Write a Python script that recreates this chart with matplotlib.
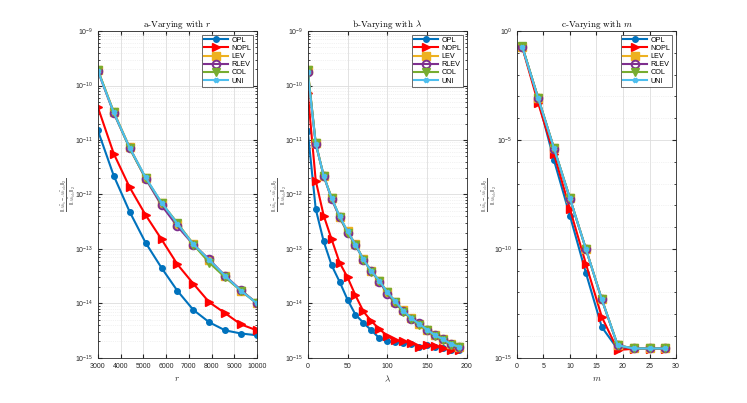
import matplotlib
matplotlib.use("Agg")
import matplotlib.pyplot as plt
from matplotlib.ticker import NullFormatter, FixedLocator

plt.rcParams['font.family'] = ['Liberation Sans', 'DejaVu Sans']
plt.rcParams['mathtext.fontset'] = 'custom'
plt.rcParams['mathtext.rm'] = 'Liberation Sans'
plt.rcParams['mathtext.it'] = 'cmmi10'
plt.rcParams['mathtext.fallback'] = 'cm'
plt.rcParams['axes.unicode_minus'] = False

# panel a - varying r
r_vals = [3000, 3700, 4400, 5100, 5800, 6500, 7200, 7900, 8600, 9300, 10000]
a_opl = [1.5e-11, 2.2e-12, 4.8e-13, 1.3e-13, 4.5e-14, 1.7e-14, 7.6e-15, 4.5e-15, 3.2e-15, 2.8e-15, 2.6e-15]
a_nopl = [4.0e-11, 5.6e-12, 1.35e-12, 4.2e-13, 1.5e-13, 5.2e-14, 2.3e-14, 1.05e-14, 6.6e-15, 4.1e-15, 3.2e-15]
a_lev = [1.9e-10, 3.3e-11, 7.3e-12, 2.0e-12, 6.9e-13, 2.9e-13, 1.25e-13, 6.2e-14, 3.2e-14, 1.7e-14, 1.0e-14]
a_rlev = [1.85e-10, 3.1e-11, 7.1e-12, 1.95e-12, 6.3e-13, 2.6e-13, 1.2e-13, 6.4e-14, 3.2e-14, 1.75e-14, 1.0e-14]
a_col = [1.95e-10, 3.2e-11, 7.0e-12, 2.0e-12, 7.0e-13, 3.0e-13, 1.2e-13, 5.6e-14, 3.0e-14, 1.7e-14, 1.0e-14]
a_uni = [1.87e-10, 3.2e-11, 7.2e-12, 2.05e-12, 7.1e-13, 2.9e-13, 1.22e-13, 6.3e-14, 3.2e-14, 1.7e-14, 1.0e-14]

# panel b - varying lambda
lam_vals = [0, 10, 20, 30, 40, 50, 60, 70, 80, 90, 100, 110, 120, 130, 140, 150, 160, 170, 180, 190]
b_opl = [1.45e-11, 5.4e-13, 1.38e-13, 5.0e-14, 2.5e-14, 1.17e-14, 6.2e-15, 4.4e-15, 3.2e-15, 2.3e-15,
         2.0e-15, 1.95e-15, 1.9e-15, 1.8e-15, 1.6e-15, 1.7e-15, 1.6e-15, 1.5e-15, 1.38e-15, 1.4e-15]
b_nopl = [7.4e-11, 1.8e-12, 4.1e-13, 1.5e-13, 5.6e-14, 3.0e-14, 1.4e-14, 7.1e-15, 4.7e-15, 3.4e-15,
          2.5e-15, 2.1e-15, 2.0e-15, 1.9e-15, 1.6e-15, 1.75e-15, 1.65e-15, 1.5e-15, 1.38e-15, 1.4e-15]
b_lev = [1.9e-10, 8.7e-12, 2.2e-12, 8.6e-13, 3.9e-13, 2.1e-13, 1.22e-13, 6.5e-14, 3.9e-14, 2.6e-14,
         1.6e-14, 1.08e-14, 7.5e-15, 5.4e-15, 4.2e-15, 3.3e-15, 2.6e-15, 2.2e-15, 1.8e-15, 1.6e-15]
b_rlev = [1.8e-10, 8.5e-12, 2.2e-12, 8.2e-13, 3.8e-13, 2.0e-13, 1.18e-13, 6.3e-14, 3.9e-14, 2.5e-14,
          1.5e-14, 1.0e-14, 7.3e-15, 5.2e-15, 4.3e-15, 3.2e-15, 2.6e-15, 2.2e-15, 1.8e-15, 1.55e-15]
b_col = [1.95e-10, 8.8e-12, 2.2e-12, 8.7e-13, 3.9e-13, 2.0e-13, 1.2e-13, 6.3e-14, 3.8e-14, 2.6e-14,
         1.6e-14, 1.05e-14, 7.0e-15, 5.2e-15, 4.0e-15, 3.2e-15, 2.5e-15, 2.1e-15, 1.75e-15, 1.55e-15]
b_uni = [1.75e-10, 8.6e-12, 2.2e-12, 8.5e-13, 4.0e-13, 2.1e-13, 1.2e-13, 6.4e-14, 3.9e-14, 2.6e-14,
         1.6e-14, 1.1e-14, 7.4e-15, 5.4e-15, 4.2e-15, 3.3e-15, 2.6e-15, 2.2e-15, 1.8e-15, 1.6e-15]

# panel c - varying m
m_vals = [1, 4, 7, 10, 13, 16, 19, 22, 25, 28]
c_opl = [0.2, 7e-4, 1.15e-6, 3.3e-9, 8e-12, 2.6e-14, 2.5e-15, 2.7e-15, 2.7e-15, 2.7e-15]
c_nopl = [0.18, 5e-4, 2.2e-6, 6.7e-9, 2.1e-11, 7.6e-14, 2.3e-15, 2.6e-15, 2.6e-15, 2.6e-15]
c_lev = [0.19, 8.5e-4, 4.1e-6, 2.1e-8, 1.0e-10, 4.9e-13, 3.8e-15, 2.7e-15, 2.7e-15, 2.7e-15]
c_rlev = [0.19, 8.3e-4, 4.0e-6, 2.0e-8, 1.0e-10, 4.8e-13, 3.7e-15, 2.7e-15, 2.7e-15, 2.7e-15]
c_col = [0.2, 8.6e-4, 4.2e-6, 2.1e-8, 1.0e-10, 5.0e-13, 3.8e-15, 2.7e-15, 2.7e-15, 2.7e-15]
c_uni = [0.19, 8.4e-4, 4.1e-6, 2.1e-8, 1.0e-10, 4.9e-13, 3.8e-15, 2.7e-15, 2.7e-15, 2.7e-15]

names = ['OPL', 'NOPL', 'LEV', 'RLEV', 'COL', 'UNI']
colors = ['#0072BD', '#FF0000', '#EDB120', '#7E2F8E', '#77AC30', '#4DBEEE']
markers = ['.', '>', 's', 'o', 'v', 'x']

ylab = r'$\frac{\|A\hat{b}_{s}-A\hat{b}_{ols}\|_2}{\|A\hat{b}_{ols}\|_2}$'

fig = plt.figure(figsize=(7.47, 4.03), dpi=100)
lefts = [0.131, 0.412, 0.692]
ylab_x = [-0.19, -0.18, -0.176]
panels = [
    (r_vals, [a_opl, a_nopl, a_lev, a_rlev, a_col, a_uni], 'a-Varying with ', 'r', (3000, 10000), range(3000, 10001, 1000), -15, -9, 1),
    (lam_vals, [b_opl, b_nopl, b_lev, b_rlev, b_col, b_uni], 'b-Varying with ', r'\lambda', (0, 200), range(0, 201, 50), -15, -9, 1),
    (m_vals, [c_opl, c_nopl, c_lev, c_rlev, c_col, c_uni], 'c-Varying with ', 'm', (0, 30), range(0, 31, 5), -15, 0, 5),
]

for k, (xv, series, ttl, var, xl, xt, e0, e1, step) in enumerate(panels):
    ax = fig.add_axes([lefts[k], 0.112, 0.213, 0.811])
    for s, name, c, mk in zip(series, names, colors, markers):
        if mk == 'o':
            ax.plot(xv, s, color=c, marker=mk, ms=5.5, mfc='none', mew=1.4, lw=1.5, label=name)
        elif mk == '.':
            ax.plot(xv, s, color=c, marker='o', ms=4, lw=1.5, label=name)
        elif mk == 'x':
            ax.plot(xv, s, color=c, marker=mk, ms=3.5, mew=2, lw=1.5, label=name)
        else:
            ax.plot(xv, s, color=c, marker=mk, ms=5.5, lw=1.5, label=name)
    ax.set_yscale('log')
    ax.set_xlim(xl)
    ax.set_ylim(10.0 ** e0, 10.0 ** e1)
    ax.set_xticks(list(xt))
    ax.yaxis.set_major_locator(FixedLocator([10.0 ** e for e in range(e0, e1 + 1, step)]))
    if step == 1:
        minors = [d * 10.0 ** e for e in range(e0, e1) for d in range(2, 10)]
    else:
        minors = [10.0 ** e for e in range(e0, e1 + 1)]
    ax.yaxis.set_minor_locator(FixedLocator(minors))
    ax.yaxis.set_minor_formatter(NullFormatter())
    ax.grid(True, which='major', color='#dddddd', lw=0.6)
    ax.grid(True, which='minor', axis='y', color='#e6e6e6', lw=0.5, ls=':')
    ax.tick_params(which='both', direction='in', labelsize=5, colors='#262626', top=True, right=True, length=3)
    ax.tick_params(which='minor', length=1.5)
    for sp in ax.spines.values():
        sp.set_color('#262626')
        sp.set_linewidth(0.6)
    ax.set_title(ttl + '$' + var + '$', fontfamily='cmr10', fontsize=6.5, pad=3)
    ax.set_xlabel('$' + var + '$', fontsize=6.5, color='#262626', labelpad=3)
    # y label as a plain rotated text so it sits where the reference has it
    ax.text(ylab_x[k], 0.5, ylab, transform=ax.transAxes, rotation=90, ha='center', va='center',
            fontsize=5.5, color='#555555')
    leg = ax.legend(loc='upper right', fontsize=5.2, frameon=True, fancybox=False, edgecolor='#262626',
                    handlelength=3.4, borderpad=0.3, labelspacing=0.15, handletextpad=0.4)
    leg.get_frame().set_linewidth(0.6)

fig.savefig('out.png', dpi=100)
